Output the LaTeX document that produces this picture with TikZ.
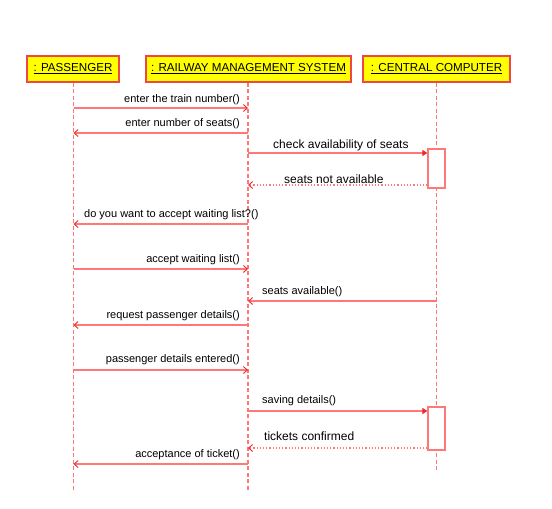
\documentclass[tikz,border=0pt]{standalone}
\usepackage{fontspec}
\setmainfont{Liberation Sans}
\usetikzlibrary{arrows.meta,calc}
\definecolor{boxborder}{RGB}{240,70,70}
\definecolor{boxfill}{RGB}{255,255,0}
\definecolor{lnc}{RGB}{255,120,120}
\definecolor{tipc}{RGB}{240,40,40}
\begin{document}
\begin{tikzpicture}[x=1pt,y=-1pt,
  obj/.style={draw=boxborder,line width=1.6pt,fill=boxfill,minimum height=26pt,inner sep=0pt,font=\fontsize{11.6}{14}\selectfont},
  life/.style={draw=lnc,line width=1.5pt,dash pattern=on 4pt off 2.5pt},
  act/.style={draw=lnc,line width=1.3pt,fill=white,minimum width=17pt,inner sep=0pt},
  msg/.style={draw=lnc,line width=1.2pt,-{Straight Barb[length=4pt,width=7pt,line width=0.9pt,color=tipc]}},
  call/.style={draw=lnc,line width=1.2pt,-{Triangle[length=5pt,width=6pt,color=tipc]}},
  ret/.style={draw=lnc,line width=1.2pt,dotted,-{Straight Barb[length=4pt,width=7pt,line width=0.9pt,color=tipc]}},
  lbl/.style={inner sep=0pt,font=\fontsize{11}{13}\selectfont},
  biglbl/.style={inner sep=0pt,font=\fontsize{12}{14}\selectfont}]
\useasboundingbox (0,0) rectangle (552,509);
\node[obj,minimum width=92pt] (pass) at (73,69) {\underline{: PASSENGER}};
\node[obj,minimum width=205pt] (rms) at (248.5,69) {\underline{: RAILWAY MANAGEMENT SYSTEM}};
\node[obj,minimum width=147pt] (cc) at (436.5,69) {\underline{: CENTRAL COMPUTER}};
\coordinate (passend) at (73.5,490);
\coordinate (rmsend) at (248,490);
\coordinate (ccend) at (436.5,470);
\draw[life] (pass.south -| passend) -- (passend);
\draw[life] (rms.south -| rmsend) -- (rmsend);
\draw[life] (cc.south) -- (ccend);
\node[act,minimum height=39pt] (act1) at (436.5,168.5) {};
\node[act,minimum height=43pt] (act2) at (436.5,428.5) {};
% messages
\draw[msg] (passend |- 0,108) -- (rmsend |- 0,108);
\node[lbl,anchor=base east] (m1) at (240,102) {enter the train number()};
\draw[msg] (rmsend |- 0,133) -- (passend |- 0,133);
\node[lbl,anchor=base east] (m2) at (240,126) {enter number of seats()};
\draw[call] (rmsend |- 0,153) -- (act1.west |- 0,153);
\node[biglbl,anchor=base west] (m3) at (273,148) {check availability of seats};
\draw[ret] (act1.west |- 0,185) -- (rmsend |- 0,185);
\node[biglbl,anchor=base west] (m4) at (284,183) {seats not available};
\draw[msg] (rmsend |- 0,224) -- (passend |- 0,224);
\node[lbl,anchor=base west] (m5) at (84,217) {do you want to accept waiting list?()};
\draw[msg] (passend |- 0,269) -- (rmsend |- 0,269);
\node[lbl,anchor=base east] (m6) at (240,262) {accept waiting list()};
\draw[msg] (ccend |- 0,301) -- (rmsend |- 0,301);
\node[lbl,anchor=base west] (m7) at (262,294) {seats available()};
\draw[msg] (rmsend |- 0,325) -- (passend |- 0,325);
\node[lbl,anchor=base east] (m8) at (240,318) {request passenger details()};
\draw[msg] (passend |- 0,370) -- (rmsend |- 0,370);
\node[lbl,anchor=base east] (m9) at (240,362) {passenger details entered()};
\draw[call] (rmsend |- 0,411) -- (act2.west |- 0,411);
\node[lbl,anchor=base west] (m10) at (262,403) {saving details()};
\draw[ret] (act2.west |- 0,448) -- (rmsend |- 0,448);
\node[biglbl,anchor=base west] (m11) at (264,440) {tickets confirmed};
\draw[msg] (rmsend |- 0,464) -- (passend |- 0,464);
\node[lbl,anchor=base east] (m12) at (240,457) {acceptance of ticket()};
\end{tikzpicture}
\end{document}
